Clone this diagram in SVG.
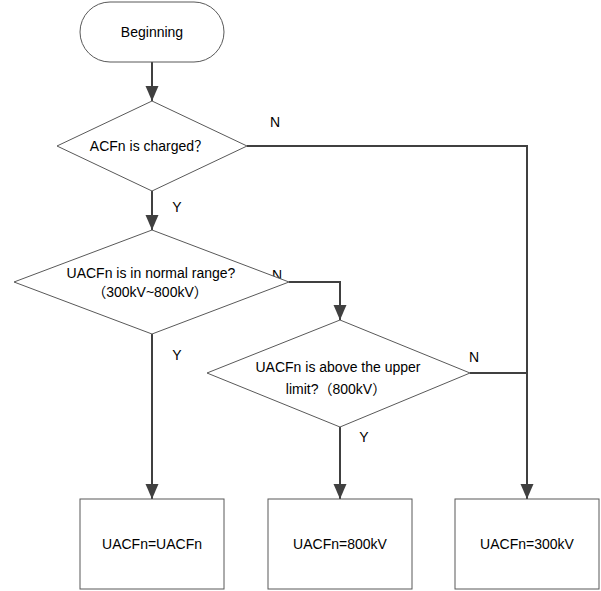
<svg xmlns="http://www.w3.org/2000/svg" width="601" height="591" viewBox="0 0 601 591">
<defs>
<style>
.shape{fill:#fff;stroke:#595959;stroke-width:1}
.conn{fill:none;stroke:#404040;stroke-width:2}
text{font-family:"Liberation Sans","Noto Sans CJK SC",sans-serif;font-size:14px;fill:#000;text-anchor:middle}
</style>
<marker id="arr" markerUnits="userSpaceOnUse" markerWidth="16" markerHeight="14" refX="15" refY="6.5" orient="auto">
<path d="M0,0 L15,6.5 L0,13 Z" fill="#404040"/>
</marker>
</defs>
<rect width="601" height="591" fill="#fff"/>
<g id="connectors">
<path class="conn" d="M152,62 V101" marker-end="url(#arr)"/>
<path class="conn" d="M152,191 V230" marker-end="url(#arr)"/>
<path class="conn" d="M247,146 H527 V499" marker-end="url(#arr)"/>
<path class="conn" d="M289,282 H340 V320" marker-end="url(#arr)"/>
<path class="conn" d="M152,334 V499" marker-end="url(#arr)"/>
<path class="conn" d="M340,427 V499" marker-end="url(#arr)"/>
<path class="conn" d="M470,373 H527"/>
</g>
<g id="labels">
<text x="275" y="127">N</text>
<text x="177" y="212">Y</text>
<text x="277" y="280">N</text>
<text x="177" y="360">Y</text>
<text x="474" y="362">N</text>
<text x="364" y="442">Y</text>
</g>
<g id="start">
<rect class="shape" x="80" y="2" width="144" height="60" rx="30" ry="30"/>
<text x="152" y="37">Beginning</text>
</g>
<g id="decision1">
<polygon class="shape" points="152,101 247,146 152,191 57,146"/>
<text x="149" y="151">ACFn is charged？</text>
</g>
<g id="decision2">
<polygon class="shape" points="152,230 289,282 152,334 14,282"/>
<text x="151" y="278">UACFn is in normal range?</text>
<text x="150" y="297">（300kV~800kV）</text>
</g>
<g id="decision3">
<polygon class="shape" points="340,320 470,373 340,427 207,373"/>
<text x="338" y="372">UACFn is above the upper</text>
<text x="336" y="394">limit?（800kV）</text>
</g>
<g id="box1">
<rect class="shape" x="80" y="499" width="144" height="90"/>
<text x="152" y="549">UACFn=UACFn</text>
</g>
<g id="box2">
<rect class="shape" x="268" y="499" width="144" height="90"/>
<text x="340" y="549">UACFn=800kV</text>
</g>
<g id="box3">
<rect class="shape" x="455" y="499" width="144" height="90"/>
<text x="527" y="549">UACFn=300kV</text>
</g>
</svg>
